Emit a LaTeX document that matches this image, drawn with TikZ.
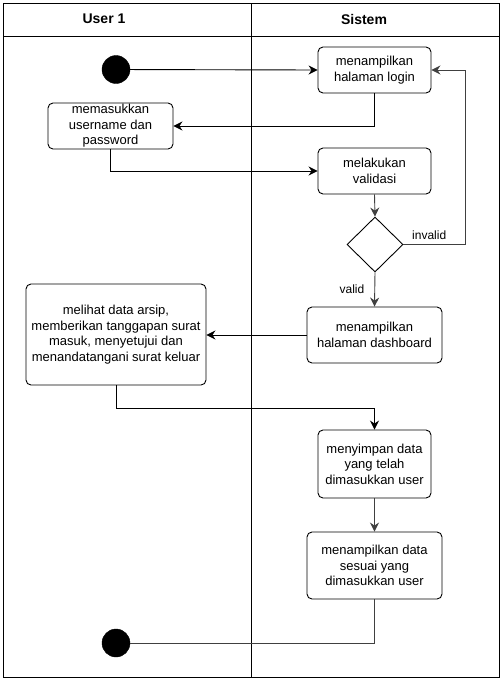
\documentclass[tikz,border=0pt]{standalone}
\usepackage{fontspec}
\setmainfont{Liberation Sans}
\usetikzlibrary{shapes.geometric,arrows.meta}
\begin{document}
\begin{tikzpicture}[x=1pt,y=-1pt,
  act/.style={draw, line width=0.9pt, rounded corners=5pt, fill=white, align=center, inner sep=0pt, font=\fontsize{13}{15.6}\selectfont},
  dec/.style={draw, line width=0.9pt, diamond, inner sep=0pt, minimum width=56pt, minimum height=55pt},
  dot/.style={circle, fill=black, draw=black, minimum size=28pt, inner sep=0pt},
  arr/.style={line width=0.9pt, -{Stealth[length=9pt,width=9pt,inset=3pt]}},
  garr/.style={arr, draw=black!75},
  gline/.style={line width=0.9pt, draw=black!75},
  lbl/.style={font=\fontsize{12}{14}\selectfont, inner sep=0pt},
  hdr/.style={font=\fontsize{14}{16}\selectfont\bfseries, inner sep=0pt}]
\useasboundingbox (0,0) rectangle (500,681);
\fill[white] (0,0) rectangle (500,681);
% swimlanes
\draw[line width=1pt] (3,3) rectangle (499,677);
\draw[line width=1pt] (3,36) -- (499,36);
\draw[line width=1pt] (251,3) -- (251,677);
\node[hdr] (h1) at (104,19) {User 1};
\node[hdr] (h2) at (364,19) {Sistem};
% nodes
\node[dot] (start) at (116,69.5) {};
\node[act, minimum width=113pt, minimum height=46pt] (login) at (374.5,70) {menampilkan\\halaman login};
\node[act, minimum width=125pt, minimum height=46pt] (masuk) at (110.5,126) {memasukkan\\username dan\\password};
\node[act, minimum width=113pt, minimum height=46pt] (valid) at (374.5,171) {melakukan\\validasi};
\node[dec] (d) at (375,244.5) {};
\node[act, minimum width=135pt, minimum height=56pt] (dash) at (374.5,335) {menampilkan\\halaman dashboard};
\node[act, minimum width=180pt, minimum height=101pt] (lihat) at (116,334.5) {melihat data arsip,\\memberikan tanggapan surat\\masuk, menyetujui dan\\menandatangani surat keluar};
\node[act, minimum width=113pt, minimum height=68pt] (simpan) at (374.5,464) {menyimpan data\\yang telah\\dimasukkan user};
\node[act, minimum width=135pt, minimum height=67pt] (tampil) at (374.5,565.5) {menampilkan data\\sesuai yang\\dimasukkan user};
\node[dot] (end) at (116,643) {};
\coordinate (inv) at (465,244.5);
% connectors
\draw[arr] (start) -- (login.west);
\draw[arr] (login.south) |- (masuk.east);
\draw[arr] (masuk.south) |- (valid.west);
\draw[garr] (valid.south) -- (d.north);
\draw[garr] (d.east) -- (inv) |- (login.east);
\node[lbl, anchor=south west] (linv) at (412,240) {invalid};
\draw[garr] (d.south) -- (dash.north);
\node[lbl] (lval) at (352,289) {valid};
\draw[arr] (dash.west) -- (dash.west -| lihat.east);
\draw[arr] (lihat.south) -- ++(0,23) -| (simpan.north);
\draw[garr] (simpan.south) -- (tampil.north);
\draw[gline] (tampil.south) |- (end.east);
\end{tikzpicture}
\end{document}
